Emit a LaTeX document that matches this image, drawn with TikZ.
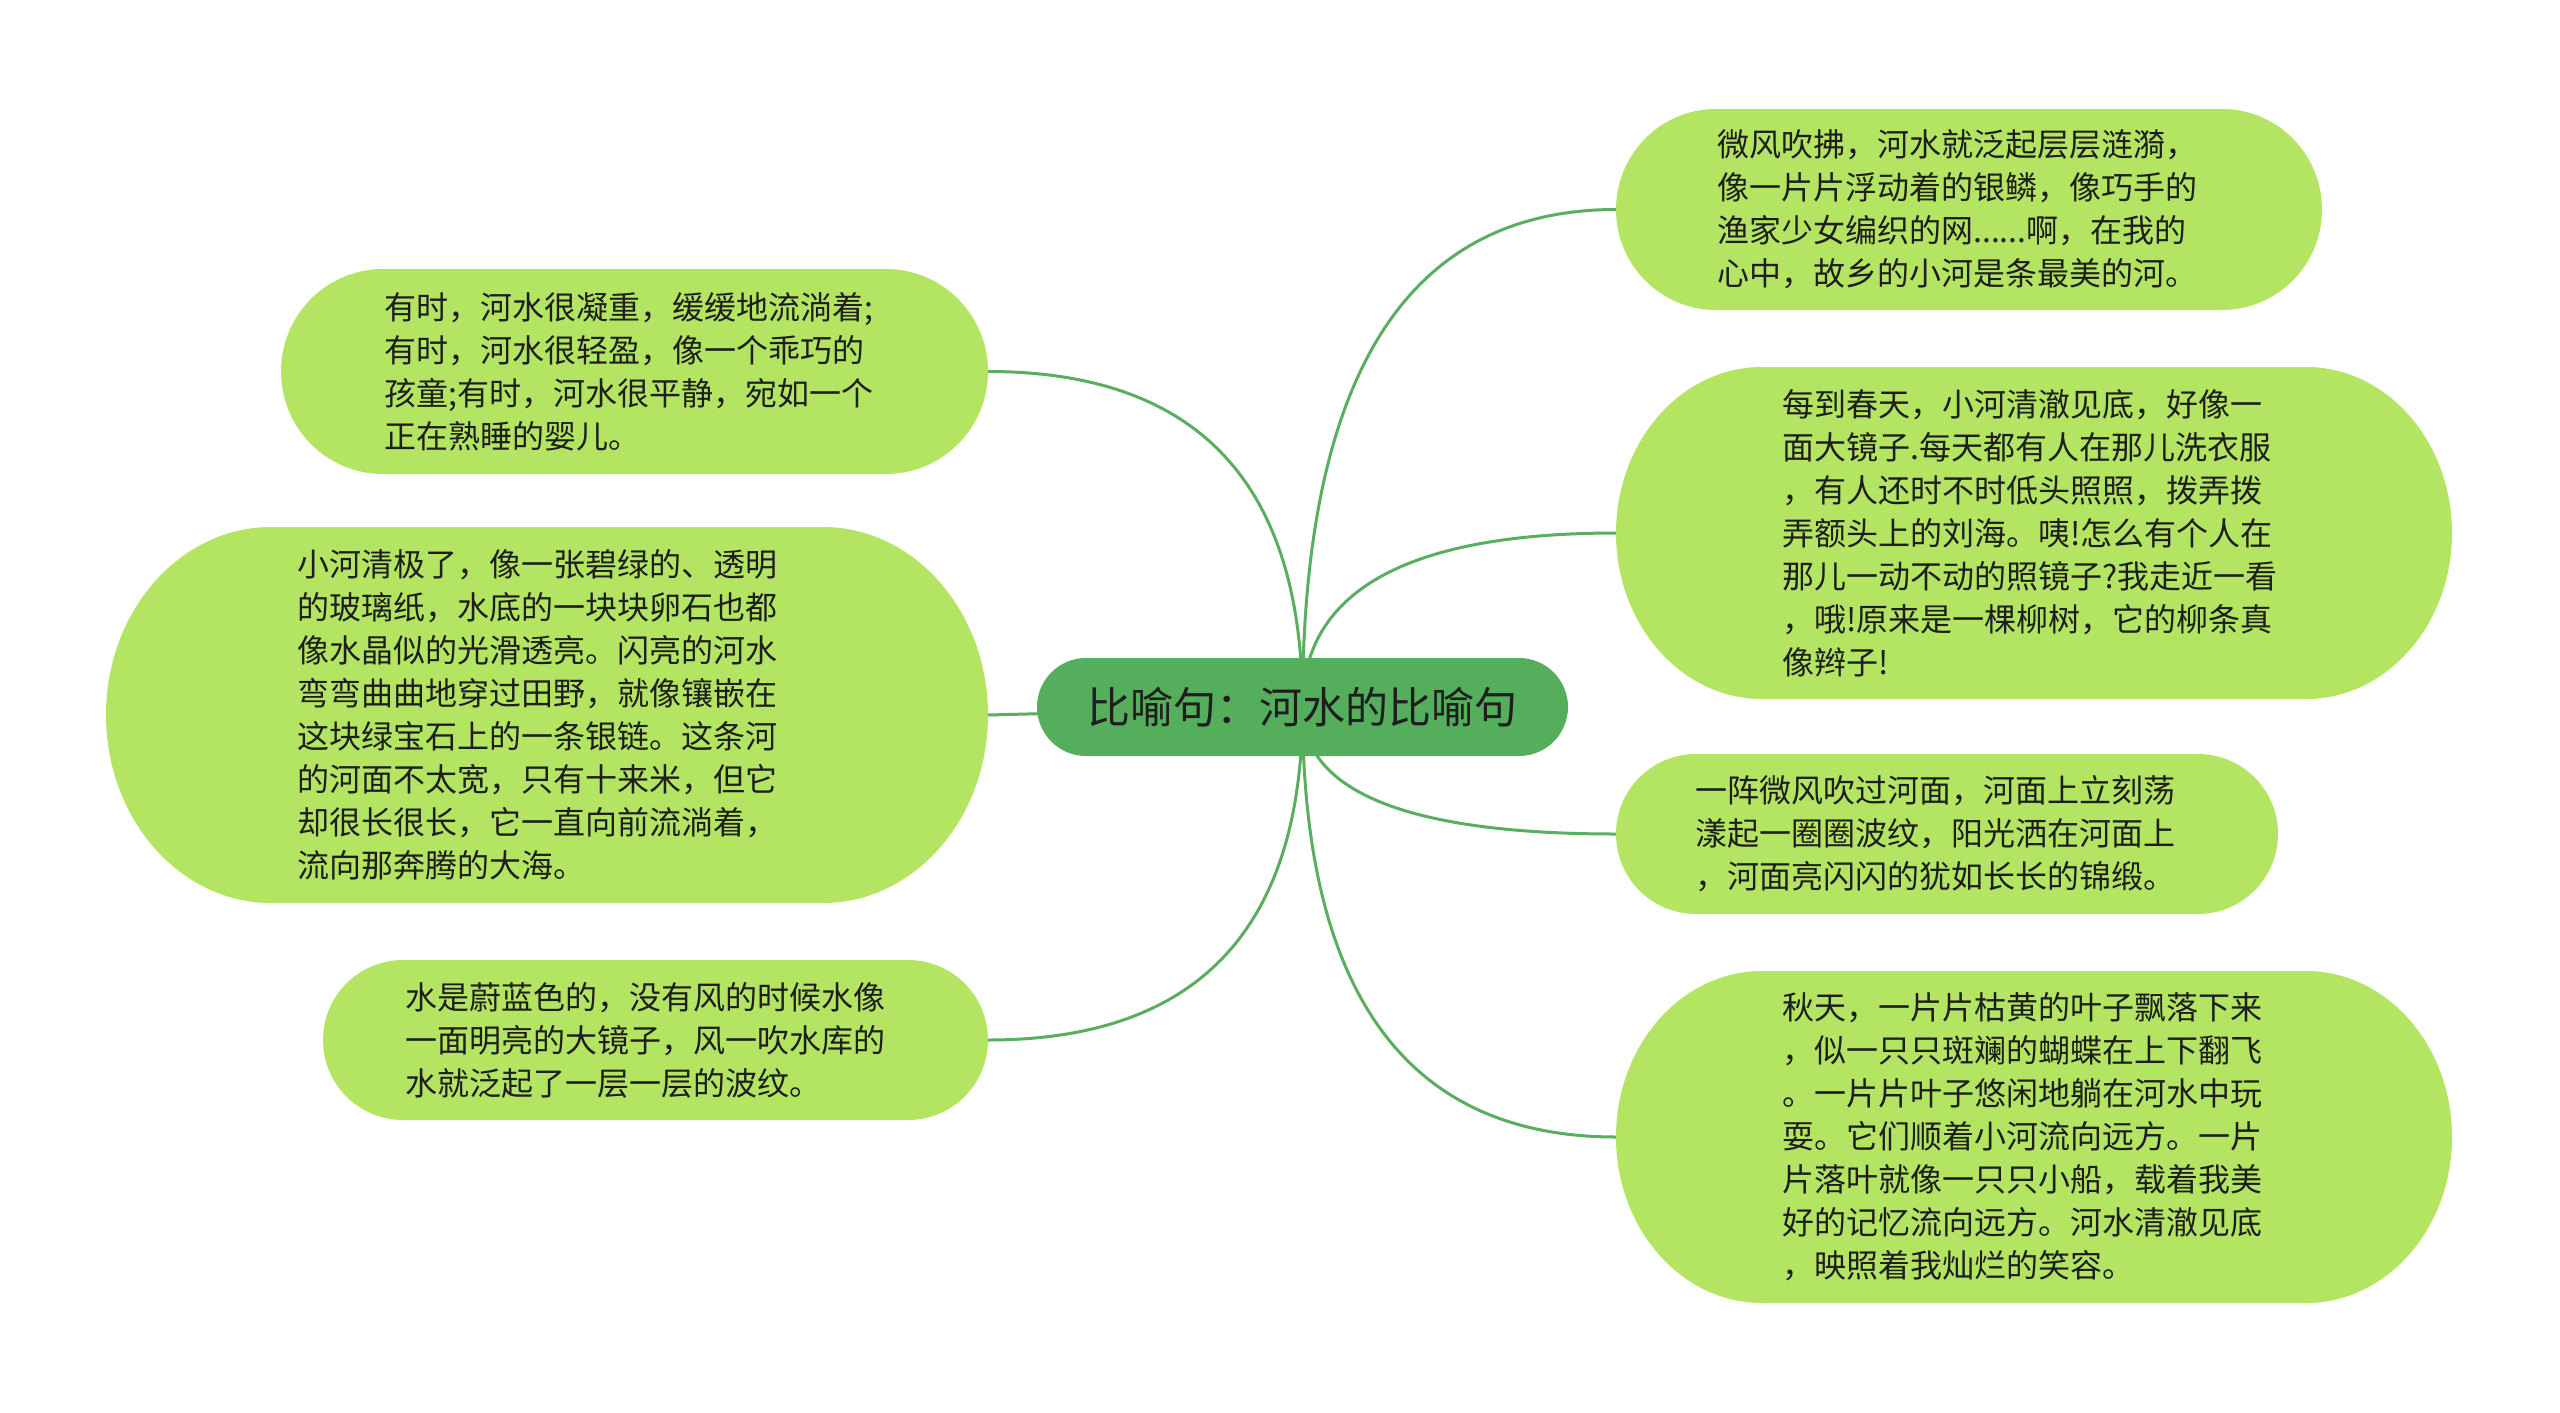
\documentclass[tikz,border=0pt]{standalone}
\usepackage{fontspec}
\setmainfont{Noto Sans CJK SC}
\usetikzlibrary{backgrounds,calc}
\definecolor{childfill}{HTML}{B4E562}
\definecolor{rootfill}{HTML}{55AE5C}
\definecolor{edgecol}{HTML}{5AAE5F}
\definecolor{txtcol}{HTML}{1E1E1E}
\tikzset{
  edge/.style={draw=edgecol, line width=3pt},
  txt/.style={anchor=west, align=left, inner sep=0pt, text=txtcol, font=\fontsize{32}{43}\selectfont},
  rootbox/.style={fill=rootfill, rounded corners=49pt, minimum width=531pt, minimum height=98pt, inner sep=0pt, text=txtcol, font=\fontsize{43}{50}\selectfont},
  boxanchor/.style={inner sep=0pt, outer sep=0pt}
}
% name, x1, y1, x2, y2, rx
\newcommand\bubble[6]{%
  \fill[childfill] ({#2+#6},#3) -- ({#4-#6},#3)
    arc[start angle=-90, end angle=90, x radius=#6, y radius={(#5-#3)/2}]
    -- ({#2+#6},#5)
    arc[start angle=90, end angle=270, x radius=#6, y radius={(#5-#3)/2}] -- cycle;
  \node[boxanchor, minimum width={(#4-#2)*1pt}, minimum height={(#5-#3)*1pt}] (#1) at ({(#2+#4)/2},{(#3+#5)/2}) {};
}
% quadratic-like connector from root centre to a child anchor
\newcommand\branch[1]{%
  \draw[edge] (root.center) .. controls ($(root.center)!2/3!(root.center |- #1)$)
    and ($(#1)!2/3!(root.center |- #1)$) .. (#1);
}
\begin{document}
\begin{tikzpicture}[x=1pt, y=-1pt]
\useasboundingbox (0,0) rectangle (2560,1413);

% bubbles
\bubble{L1}{281}{269}{988}{474}{102}
\bubble{L2}{106}{527}{988}{903}{165}
\bubble{L3}{323}{960}{988}{1120}{80}
\bubble{R1}{1616}{109}{2322}{310}{100}
\bubble{R2}{1616}{367}{2452}{699}{146}
\bubble{R3}{1616}{754}{2278}{914}{80}
\bubble{R4}{1616}{971}{2452}{1303}{146}

\node[rootbox] (root) at (1302.5,707) {比喻句：河水的比喻句};

% texts
\node[txt] (L1text) at (384,371.5) {有时，河水很凝重，缓缓地流淌着;\\有时，河水很轻盈，像一个乖巧的\\孩童;有时，河水很平静，宛如一个\\正在熟睡的婴儿。};
\node[txt] (L2text) at (297,715) {小河清极了，像一张碧绿的、透明\\的玻璃纸，水底的一块块卵石也都\\像水晶似的光滑透亮。闪亮的河水\\弯弯曲曲地穿过田野，就像镶嵌在\\这块绿宝石上的一条银链。这条河\\的河面不太宽，只有十来米，但它\\却很长很长，它一直向前流淌着，\\流向那奔腾的大海。};
\node[txt] (L3text) at (405,1040) {水是蔚蓝色的，没有风的时候水像\\一面明亮的大镜子，风一吹水库的\\水就泛起了一层一层的波纹。};
\node[txt] (R1text) at (1717,209.5) {微风吹拂，河水就泛起层层涟漪，\\像一片片浮动着的银鳞，像巧手的\\渔家少女编织的网......啊，在我的\\心中，故乡的小河是条最美的河。};
\node[txt] (R2text) at (1782,533) {每到春天，小河清澈见底，好像一\\面大镜子.每天都有人在那儿洗衣服\\，有人还时不时低头照照，拨弄拨\\弄额头上的刘海。咦!怎么有个人在\\那儿一动不动的照镜子?我走近一看\\，哦!原来是一棵柳树，它的柳条真\\像辫子!};
\node[txt] (R3text) at (1695,834) {一阵微风吹过河面，河面上立刻荡\\漾起一圈圈波纹，阳光洒在河面上\\，河面亮闪闪的犹如长长的锦缎。};
\node[txt] (R4text) at (1782,1137) {秋天，一片片枯黄的叶子飘落下来\\，似一只只斑斓的蝴蝶在上下翻飞\\。一片片叶子悠闲地躺在河水中玩\\耍。它们顺着小河流向远方。一片\\片落叶就像一只只小船，载着我美\\好的记忆流向远方。河水清澈见底\\，映照着我灿烂的笑容。};

\begin{pgfonlayer}{background}
  \fill[white] (0,0) rectangle (2560,1413);
  \branch{L1.east}
  \draw[edge] (root.center) -- (L2.east);
  \branch{L3.east}
  \branch{R1.west}
  \branch{R2.west}
  \branch{R3.west}
  \branch{R4.west}
\end{pgfonlayer}
\end{tikzpicture}
\end{document}
